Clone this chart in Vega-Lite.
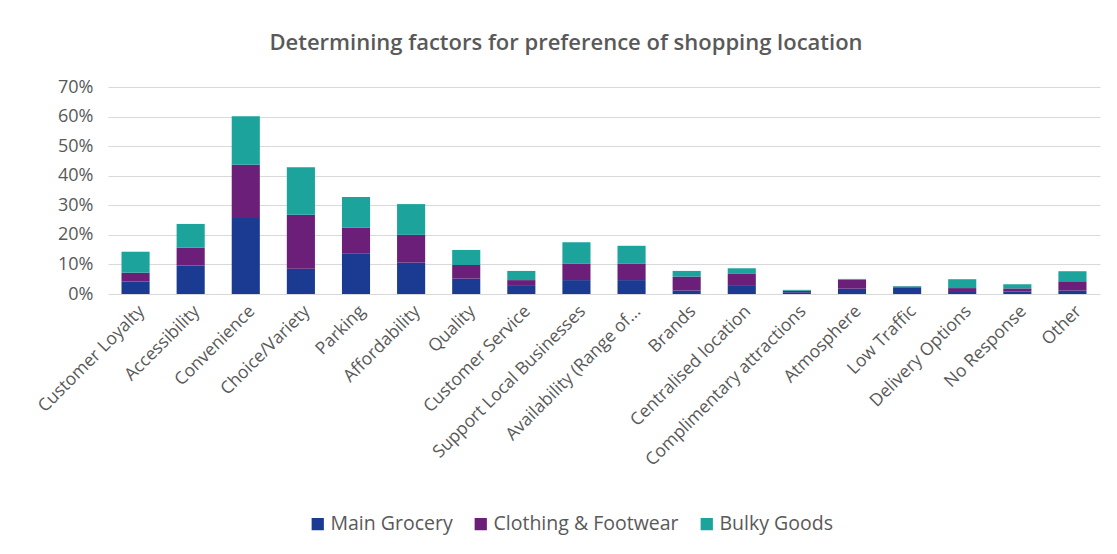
{
  "$schema": "https://vega.github.io/schema/vega-lite/v6.json",
  "autosize": "none",
  "width": 992,
  "height": 207,
  "padding": {"left": 108, "top": 87, "right": 17, "bottom": 260},
  "background": "white",
  "title": {
    "text": "Determining factors for preference of shopping location",
    "font": "Open Sans",
    "fontSize": 22,
    "fontWeight": 600,
    "color": "#595959",
    "anchor": "middle",
    "dx": -38,
    "offset": 23
  },
  "data": {
    "values": [
      {"factor": "Customer Loyalty", "series": "Main Grocery", "value": 0.042},
      {"factor": "Customer Loyalty", "series": "Clothing & Footwear", "value": 0.030},
      {"factor": "Customer Loyalty", "series": "Bulky Goods", "value": 0.071},
      {"factor": "Accessibility", "series": "Main Grocery", "value": 0.096},
      {"factor": "Accessibility", "series": "Clothing & Footwear", "value": 0.061},
      {"factor": "Accessibility", "series": "Bulky Goods", "value": 0.080},
      {"factor": "Convenience", "series": "Main Grocery", "value": 0.257},
      {"factor": "Convenience", "series": "Clothing & Footwear", "value": 0.180},
      {"factor": "Convenience", "series": "Bulky Goods", "value": 0.164},
      {"factor": "Choice/Variety", "series": "Main Grocery", "value": 0.085},
      {"factor": "Choice/Variety", "series": "Clothing & Footwear", "value": 0.183},
      {"factor": "Choice/Variety", "series": "Bulky Goods", "value": 0.161},
      {"factor": "Parking", "series": "Main Grocery", "value": 0.138},
      {"factor": "Parking", "series": "Clothing & Footwear", "value": 0.087},
      {"factor": "Parking", "series": "Bulky Goods", "value": 0.103},
      {"factor": "Affordability", "series": "Main Grocery", "value": 0.106},
      {"factor": "Affordability", "series": "Clothing & Footwear", "value": 0.094},
      {"factor": "Affordability", "series": "Bulky Goods", "value": 0.104},
      {"factor": "Quality", "series": "Main Grocery", "value": 0.052},
      {"factor": "Quality", "series": "Clothing & Footwear", "value": 0.046},
      {"factor": "Quality", "series": "Bulky Goods", "value": 0.051},
      {"factor": "Customer Service", "series": "Main Grocery", "value": 0.030},
      {"factor": "Customer Service", "series": "Clothing & Footwear", "value": 0.017},
      {"factor": "Customer Service", "series": "Bulky Goods", "value": 0.031},
      {"factor": "Support Local Businesses", "series": "Main Grocery", "value": 0.047},
      {"factor": "Support Local Businesses", "series": "Clothing & Footwear", "value": 0.055},
      {"factor": "Support Local Businesses", "series": "Bulky Goods", "value": 0.073},
      {"factor": "Availability (Range of...", "series": "Main Grocery", "value": 0.047},
      {"factor": "Availability (Range of...", "series": "Clothing & Footwear", "value": 0.055},
      {"factor": "Availability (Range of...", "series": "Bulky Goods", "value": 0.061},
      {"factor": "Brands", "series": "Main Grocery", "value": 0.012},
      {"factor": "Brands", "series": "Clothing & Footwear", "value": 0.047},
      {"factor": "Brands", "series": "Bulky Goods", "value": 0.019},
      {"factor": "Centralised location", "series": "Main Grocery", "value": 0.030},
      {"factor": "Centralised location", "series": "Clothing & Footwear", "value": 0.038},
      {"factor": "Centralised location", "series": "Bulky Goods", "value": 0.019},
      {"factor": "Complimentary attractions", "series": "Main Grocery", "value": 0.006},
      {"factor": "Complimentary attractions", "series": "Clothing & Footwear", "value": 0.005},
      {"factor": "Complimentary attractions", "series": "Bulky Goods", "value": 0.003},
      {"factor": "Atmosphere", "series": "Main Grocery", "value": 0.018},
      {"factor": "Atmosphere", "series": "Clothing & Footwear", "value": 0.030},
      {"factor": "Atmosphere", "series": "Bulky Goods", "value": 0.003},
      {"factor": "Low Traffic", "series": "Main Grocery", "value": 0.022},
      {"factor": "Low Traffic", "series": "Clothing & Footwear", "value": 0.003},
      {"factor": "Low Traffic", "series": "Bulky Goods", "value": 0.002},
      {"factor": "Delivery Options", "series": "Main Grocery", "value": 0.010},
      {"factor": "Delivery Options", "series": "Clothing & Footwear", "value": 0.010},
      {"factor": "Delivery Options", "series": "Bulky Goods", "value": 0.030},
      {"factor": "No Response", "series": "Main Grocery", "value": 0.008},
      {"factor": "No Response", "series": "Clothing & Footwear", "value": 0.011},
      {"factor": "No Response", "series": "Bulky Goods", "value": 0.014},
      {"factor": "Other", "series": "Main Grocery", "value": 0.012},
      {"factor": "Other", "series": "Clothing & Footwear", "value": 0.031},
      {"factor": "Other", "series": "Bulky Goods", "value": 0.034}
    ]
  },
  "mark": {"type": "bar"},
  "encoding": {
    "x": {
      "field": "factor",
      "type": "nominal",
      "sort": null,
      "scale": {"paddingInner": 0.49, "paddingOuter": 0.245},
      "axis": {
        "title": null,
        "labelAngle": -45,
        "labelFont": "Open Sans",
        "labelFontSize": 17.5,
        "labelColor": "#595959",
        "ticks": false,
        "domain": false,
        "labelPadding": 8,
        "labelLimit": 300
      }
    },
    "y": {
      "field": "value",
      "type": "quantitative",
      "stack": "zero",
      "scale": {"domain": [0, 0.7]},
      "axis": {
        "title": null,
        "format": ".0%",
        "values": [0, 0.1, 0.2, 0.3, 0.4, 0.5, 0.6, 0.7],
        "labelFont": "Open Sans",
        "labelFontSize": 18,
        "labelColor": "#595959",
        "ticks": false,
        "domain": false,
        "labelPadding": 15,
        "gridColor": "#d9d9d9",
        "gridWidth": 1
      }
    },
    "color": {
      "field": "series",
      "type": "nominal",
      "sort": ["Main Grocery", "Clothing & Footwear", "Bulky Goods"],
      "scale": {
        "domain": ["Main Grocery", "Clothing & Footwear", "Bulky Goods"],
        "range": ["#1b3a92", "#6c1f78", "#1ba39c"]
      },
      "legend": {
        "title": null,
        "orient": "none",
        "direction": "horizontal",
        "legendX": 200,
        "legendY": 427,
        "symbolType": "square",
        "symbolSize": 150,
        "symbolStrokeWidth": 0,
        "labelFont": "Open Sans",
        "labelFontSize": 19.5,
        "labelColor": "#595959",
        "labelOffset": 3,
        "labelLimit": 400,
        "columnPadding": 18
      }
    },
    "order": {"field": "series", "sort": "descending"}
  },
  "config": {
    "view": {"stroke": null}
  }
}
